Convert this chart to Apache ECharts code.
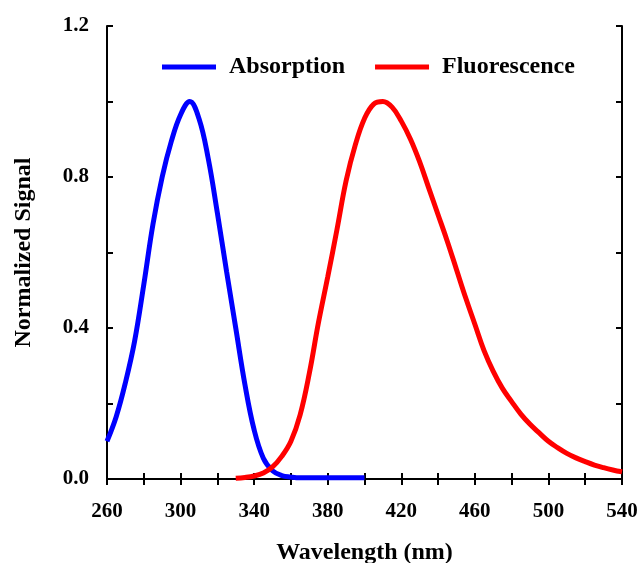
<!DOCTYPE html>
<html>
<head>
<meta charset="utf-8">
<script src="https://cdn.jsdelivr.net/npm/echarts@6/dist/echarts.min.js"></script>
<style>html,body{margin:0;padding:0;background:#fff}#c{width:641px;height:563px}</style>
</head>
<body>
<div id="c"></div>
<script>
const absWavelengths = [260,265,270,275,280,285,290,295,300,305,310,315,320,325,330,335,340,345,350,355,360,365,370,375,380,385,390,395,400];
const absValues = [0.10,0.165,0.255,0.365,0.515,0.675,0.80,0.895,0.965,1.00,0.955,0.85,0.705,0.55,0.40,0.25,0.13,0.055,0.022,0.009,0.005,0.003,0.003,0.003,0.003,0.003,0.003,0.003,0.003];
const fluWavelengths = [330,335,340,345,350,355,360,365,370,375,380,385,390,395,400,405,410,415,420,425,430,435,440,445,450,455,460,465,470,475,480,485,490,495,500,505,510,515,520,525,530,535,540];
const fluValues = [0.002,0.004,0.008,0.016,0.032,0.06,0.10,0.17,0.28,0.415,0.535,0.66,0.79,0.885,0.955,0.993,1.00,0.985,0.948,0.90,0.84,0.77,0.70,0.63,0.555,0.48,0.41,0.34,0.285,0.24,0.205,0.172,0.145,0.122,0.10,0.083,0.068,0.056,0.046,0.037,0.030,0.024,0.019];
const xTickLabels = [260,300,340,380,420,460,500,540];
const yTickLabels = [0.0,0.4,0.8,1.2];

const font = '"Liberation Serif","Times New Roman",serif';
const chart = echarts.init(document.getElementById('c'), null, {renderer:'canvas'});
const axisLineStyle = {color:'#000', width:2};
const tickStyle = {show:true, inside:true, length:6, lineStyle:{color:'#000', width:2}};
chart.setOption({
  animation:false,
  backgroundColor:'#fff',
  grid:{left:107, right:19, top:26, bottom:84, containLabel:false, outerBoundsMode:'none'},
  legend:{
    top:50, left:157, itemWidth:54, itemHeight:5, itemGap:30,
    textStyle:{fontFamily:font, fontWeight:'bold', fontSize:24, color:'#000', padding:[0,0,0,8]},
    data:[
      {name:'Absorption', icon:'rect'},
      {name:'Fluorescence', icon:'rect'}
    ]
  },
  xAxis:[{
    type:'value', min:260, max:540, interval:20,
    name:'Wavelength (nm)', nameLocation:'middle', nameGap:62,
    nameTextStyle:{fontFamily:font, fontWeight:'bold', fontSize:24, color:'#000'},
    axisLine:{show:true, lineStyle:axisLineStyle},
    axisTick:tickStyle,
    splitLine:{show:false},
    axisLabel:{
      margin:22, fontFamily:font, fontWeight:'bold', fontSize:21, color:'#000',
      formatter:v => xTickLabels.indexOf(v) >= 0 ? String(v) : ''
    }
  },{
    type:'value', min:260, max:540, interval:20, position:'top',
    axisLine:{show:true, lineStyle:axisLineStyle},
    axisTick:tickStyle, axisLabel:{show:false}, splitLine:{show:false}
  }],
  yAxis:[{
    type:'value', min:0, max:1.2, interval:0.2,
    name:'Normalized Signal', nameLocation:'middle', nameGap:71, nameRotate:90,
    nameTextStyle:{fontFamily:font, fontWeight:'bold', fontSize:24, color:'#000'},
    axisLine:{show:true, lineStyle:axisLineStyle},
    axisTick:tickStyle,
    splitLine:{show:false},
    axisLabel:{
      margin:18, fontFamily:font, fontWeight:'bold', fontSize:21, color:'#000',
      formatter:v => {
        const r = Math.round(v*10)/10;
        return yTickLabels.some(t => Math.abs(t - r) < 1e-6) ? r.toFixed(1) : '';
      }
    }
  },{
    type:'value', min:0, max:1.2, interval:0.2, position:'right',
    axisLine:{show:true, lineStyle:axisLineStyle},
    axisTick:tickStyle, axisLabel:{show:false}, splitLine:{show:false}
  }],
  series:[{
    name:'Absorption', type:'line', smooth:0.4, showSymbol:false, symbol:'none',
    color:'#0000ff', lineStyle:{color:'#0000ff', width:5},
    data:absWavelengths.map((w,i)=>[w,absValues[i]])
  },{
    name:'Fluorescence', type:'line', smooth:0.4, showSymbol:false, symbol:'none',
    color:'#ff0000', lineStyle:{color:'#ff0000', width:5},
    data:fluWavelengths.map((w,i)=>[w,fluValues[i]])
  }]
});
</script>
</body>
</html>
